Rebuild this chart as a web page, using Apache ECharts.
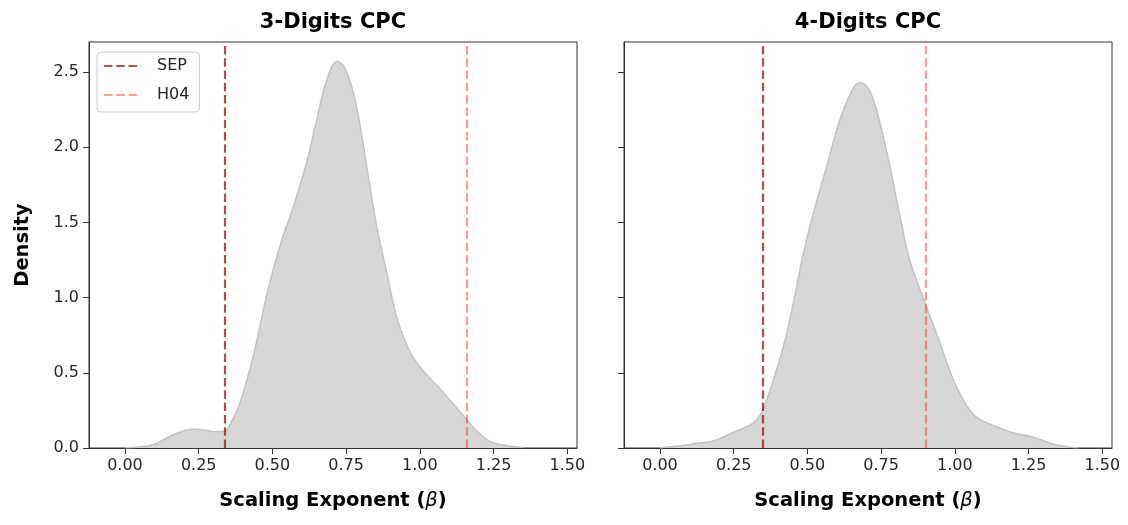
<!DOCTYPE html>
<html>
<head>
<meta charset="utf-8">
<script src="https://cdn.jsdelivr.net/npm/echarts@6/dist/echarts.min.js"></script>
<style>
  html, body { margin: 0; padding: 0; background: #fff; }
  #chart { width: 1128px; height: 525px; }
</style>
</head>
<body>
<div id="chart"></div>
<script>
// ---- Data ----
const panelTitles = ['3-Digits CPC', '4-Digits CPC'];
const xTicks = [0, 0.25, 0.5, 0.75, 1.0, 1.25, 1.5];
const yTicks = [0, 0.5, 1.0, 1.5, 2.0, 2.5];

// KDE of scaling exponent, 3-digit CPC
const beta3 = [0.00, 0.05, 0.10, 0.15, 0.20, 0.23, 0.27, 0.31, 0.34, 0.36, 0.39, 0.435, 0.48, 0.525, 0.57, 0.615, 0.65, 0.685, 0.72, 0.75, 0.785, 0.82, 0.855, 0.89, 0.92, 0.95, 0.975, 1.00, 1.03, 1.06, 1.09, 1.155, 1.195, 1.24, 1.295, 1.35];
const dens3 = [0.001, 0.006, 0.025, 0.075, 0.115, 0.125, 0.12, 0.108, 0.115, 0.17, 0.30, 0.61, 1.01, 1.34, 1.60, 1.89, 2.18, 2.45, 2.57, 2.51, 2.27, 1.87, 1.46, 1.15, 0.88, 0.71, 0.61, 0.54, 0.47, 0.41, 0.345, 0.20, 0.11, 0.042, 0.015, 0.003];

// KDE of scaling exponent, 4-digit CPC
const beta4 = [0.00, 0.07, 0.125, 0.17, 0.205, 0.24, 0.28, 0.315, 0.34, 0.362, 0.384, 0.418, 0.452, 0.486, 0.52, 0.565, 0.61, 0.655, 0.678, 0.712, 0.746, 0.78, 0.814, 0.847, 0.896, 0.938, 0.96, 1.00, 1.04, 1.07, 1.10, 1.15, 1.20, 1.25, 1.288, 1.333, 1.379, 1.42];
const dens4 = [0.002, 0.015, 0.031, 0.042, 0.064, 0.097, 0.13, 0.164, 0.22, 0.32, 0.45, 0.67, 0.96, 1.29, 1.56, 1.87, 2.18, 2.39, 2.43, 2.37, 2.16, 1.87, 1.54, 1.25, 0.98, 0.76, 0.64, 0.43, 0.28, 0.21, 0.175, 0.135, 0.10, 0.08, 0.058, 0.027, 0.009, 0.001];

// Reference lines (per panel)
const sepBeta = [0.345, 0.347];
const h04Beta = [1.156, 0.896];

// ---- Chart ----
const FONT = "'DejaVu Sans', sans-serif";
const xMin = -0.122, xMax = 1.533, yMin = 0, yMax = 2.70;
const grids = [
  { left: 89, top: 42, width: 488, height: 406 },
  { left: 624, top: 42, width: 488, height: 406 }
];
const sepStyle = { color: 'rgba(150,10,10,0.72)', width: 2.2, type: [8.5, 3.8] };
const h04Style = { color: 'rgba(250,30,30,0.45)', width: 2.2, type: [8.5, 3.8] };

function zip(a, b) { return a.map((v, i) => [v, b[i]]); }

const chart = echarts.init(document.getElementById('chart'), null, { renderer: 'canvas' });

const xAxes = grids.map((g, i) => ({
  type: 'value', gridIndex: i, min: xMin, max: xMax,
  axisLine: { show: true, onZero: false, lineStyle: { color: '#333', width: 1 } },
  axisTick: { show: true, length: 6, customValues: xTicks, lineStyle: { color: '#333' } },
  axisLabel: { customValues: xTicks, formatter: v => v.toFixed(2), fontFamily: FONT, fontSize: 16, color: '#262626', margin: 10 },
  splitLine: { show: false },
  name: 'Scaling Exponent ({b|β})',
  nameLocation: 'middle', nameGap: 43,
  nameTextStyle: {
    fontFamily: FONT, fontSize: 19.5, fontWeight: 'bold', color: '#000',
    rich: { b: { fontFamily: FONT, fontSize: 19.5, fontStyle: 'italic', fontWeight: 'normal', color: '#000' } }
  }
}));

const yAxes = grids.map((g, i) => ({
  type: 'value', gridIndex: i, min: yMin, max: yMax,
  axisLine: { show: true, onZero: false, lineStyle: { color: '#333', width: 1 } },
  axisTick: { show: true, length: 6, customValues: yTicks, lineStyle: { color: '#333' } },
  axisLabel: { show: i === 0, customValues: yTicks, formatter: v => v.toFixed(1), fontFamily: FONT, fontSize: 16, color: '#262626', margin: 10 },
  splitLine: { show: false },
  name: i === 0 ? 'Density' : '',
  nameLocation: 'middle', nameGap: 56,
  nameTextStyle: { fontFamily: FONT, fontSize: 19.5, fontWeight: 'bold', color: '#000' }
}));

const kdeData = [zip(beta3, dens3), zip(beta4, dens4)];
const series = [];
kdeData.forEach((d, i) => {
  series.push({
    type: 'line', xAxisIndex: i, yAxisIndex: i, data: d,
    smooth: 0.4, symbol: 'none', silent: true, z: 2,
    lineStyle: { color: '#c2c2c2', width: 1.5 },
    areaStyle: { color: '#d7d7d7', opacity: 1 }
  });
});
[0, 1].forEach(i => {
  series.push({
    name: 'SEP', type: 'line', xAxisIndex: i, yAxisIndex: i, data: [], symbol: 'none', z: 3,
    lineStyle: sepStyle, itemStyle: { color: sepStyle.color },
    markLine: { silent: true, symbol: 'none', label: { show: false }, lineStyle: sepStyle, data: [{ xAxis: sepBeta[i] }] }
  });
  series.push({
    name: 'H04', type: 'line', xAxisIndex: i, yAxisIndex: i, data: [], symbol: 'none', z: 3,
    lineStyle: h04Style, itemStyle: { color: h04Style.color },
    markLine: { silent: true, symbol: 'none', label: { show: false }, lineStyle: h04Style, data: [{ xAxis: h04Beta[i] }] }
  });
});

chart.setOption({
  animation: false,
  backgroundColor: '#fff',
  grid: grids.map(g => Object.assign({ show: true, borderColor: '#333', borderWidth: 1, backgroundColor: 'transparent', containLabel: false }, g)),
  xAxis: xAxes,
  yAxis: yAxes,
  legend: {
    data: ['SEP', 'H04'],
    orient: 'vertical', left: 97, top: 52,
    itemWidth: 37, itemHeight: 14, itemGap: 11,
    padding: [5, 10, 8, 6],
    backgroundColor: 'rgba(255,255,255,0.8)',
    borderColor: '#cccccc', borderWidth: 1, borderRadius: 4,
    itemStyle: { opacity: 0 },
    textStyle: { fontFamily: FONT, fontSize: 16, color: '#262626', lineHeight: 18, padding: [0, 0, 0, 11] },
    selectedMode: false
  },
  graphic: panelTitles.map((t, i) => ({
    type: 'text', silent: true,
    x: grids[i].left + grids[i].width / 2, y: 23,
    style: { text: t, fontFamily: FONT, fontSize: 21, fontWeight: 'bold', fill: '#000', align: 'center', verticalAlign: 'middle' }
  })),
  series: series
});
</script>
</body>
</html>
